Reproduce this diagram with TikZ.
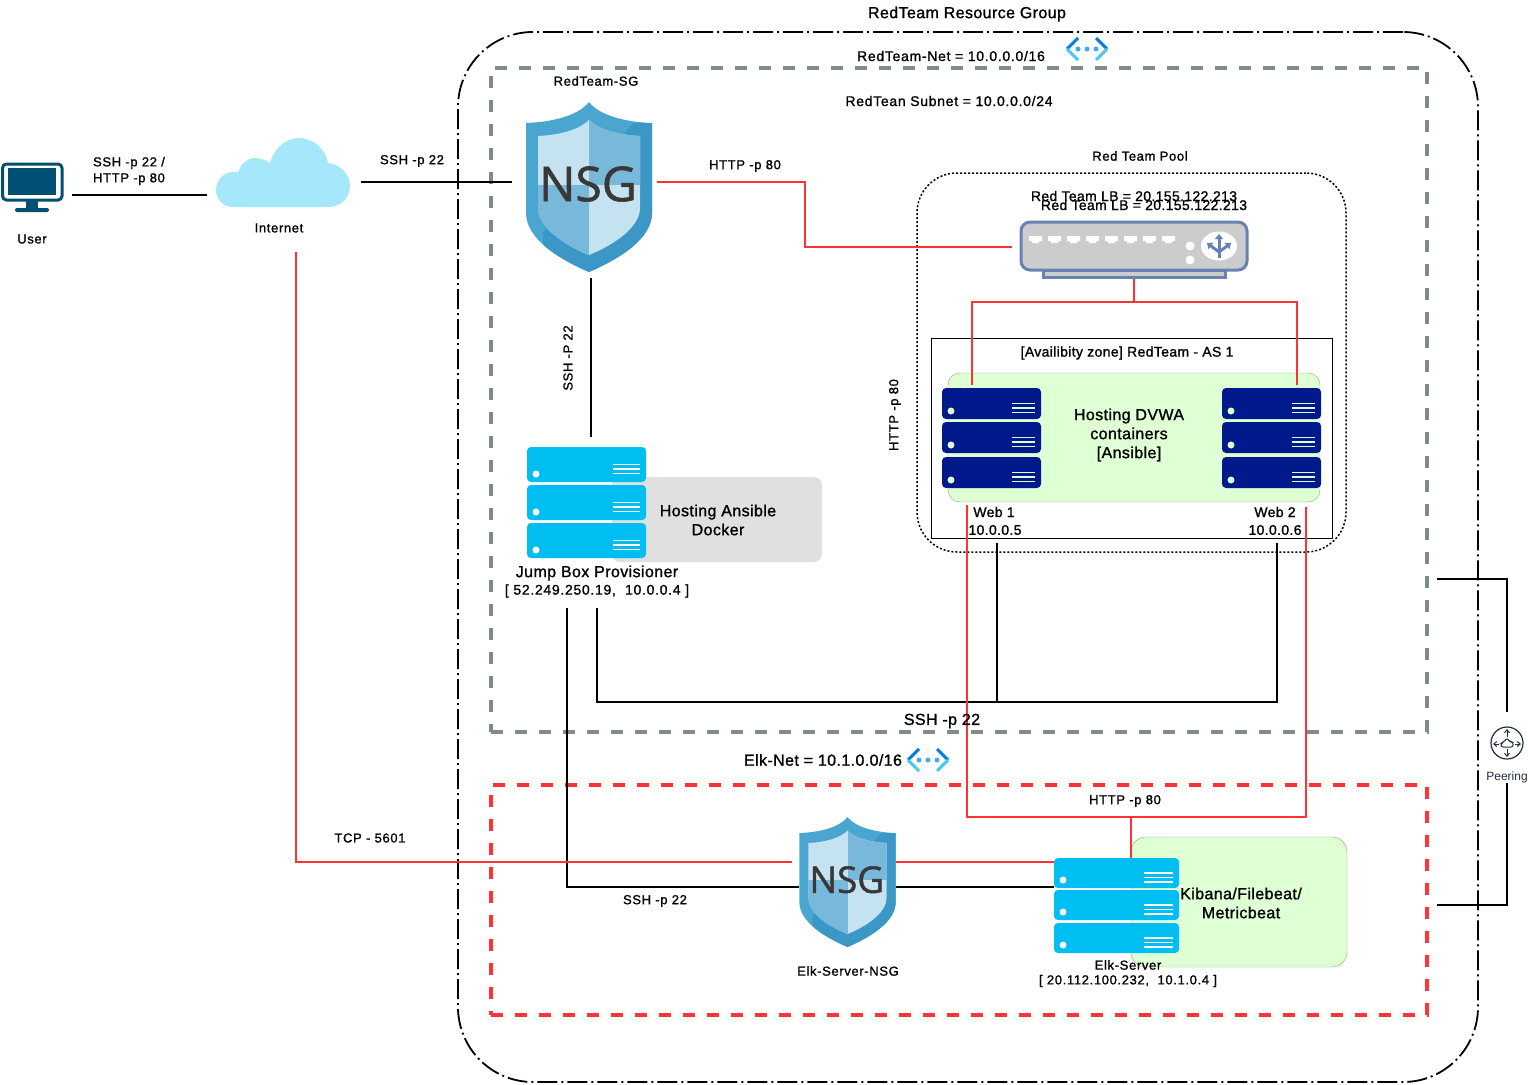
\documentclass[tikz,border=0pt]{standalone}
\usepackage{fontspec}
\usepackage{tikz}
\usetikzlibrary{arrows.meta}
\newfontfamily\difont{Liberation Sans}[LetterSpace=2.5,FakeBold=1.2]
\newfontfamily\difontwide{Liberation Sans}[LetterSpace=5,FakeBold=1.2]
\newfontfamily\shieldfont{Open Sans}[FakeBold=1.2]
\setmainfont{Liberation Sans}
\definecolor{shieldlight}{HTML}{4AA6D0}
\definecolor{shielddark}{HTML}{3A97C6}
\definecolor{panelpale}{HTML}{C5E2F0}
\definecolor{panelmid}{HTML}{78B8DA}
\definecolor{webblue}{HTML}{001A8C}
\definecolor{jumpcyan}{HTML}{00BEF2}
\definecolor{palegreen}{HTML}{DFFFD4}
\definecolor{greenedge}{HTML}{82B366}
\definecolor{lbblue}{HTML}{6881B3}
\definecolor{subnetgray}{HTML}{7F8C8D}
\definecolor{wirered}{HTML}{FF3333}
\definecolor{monitorblue}{HTML}{005073}
\definecolor{cloudblue}{HTML}{A5E8FB}
\definecolor{peeringink}{HTML}{232F3E}
\tikzset{
  wire/.style={line width=2pt,black},
  redwire/.style={line width=2pt,wirered},
  boxnode/.style={inner sep=0pt,outer sep=0pt},
  lblsmall/.style={font=\difontwide\fontsize{13}{16}\selectfont,align=center,inner sep=0pt},
  lblmid/.style={font=\difont\fontsize{14}{18}\selectfont,align=center,inner sep=0pt},
  lblwide/.style={font=\difontwide\fontsize{14}{18}\selectfont,align=center,inner sep=0pt},
  lbllarge/.style={font=\difont\fontsize{16}{19}\selectfont,align=center,inner sep=0pt},
  nsgshield/.pic={
    \begin{scope}
      \clip (0,-85) .. controls (-10,-72) and (-35,-65) .. (-63,-64) -- (-63,26)
        .. controls (-63,52) and (-30,72) .. (0,85)
        .. controls (30,72) and (63,52) .. (63,26) -- (63,-64)
        .. controls (35,-65) and (10,-72) .. (0,-85) -- cycle;
      \fill[shieldlight] (-70,-90) rectangle (70,90);
      \fill[shielddark] (44,-64) -- (-46,46) -- (-46,90) -- (70,90) -- (70,-64) -- cycle;
    \end{scope}
    \begin{scope}
      \clip (0,-67) .. controls (-10,-57) and (-30,-52) .. (-51,-51) -- (-51,21)
        .. controls (-51,40) and (-25,58) .. (0,68)
        .. controls (25,58) and (51,40) .. (51,21) -- (51,-51)
        .. controls (30,-52) and (10,-57) .. (0,-67) -- cycle;
      \fill[panelpale] (-60,-70) rectangle (60,70);
      \fill[panelmid] (0,-70) rectangle (60,-2);
      \fill[panelmid] (-60,-2) rectangle (0,70);
    \end{scope}
    \node[transform shape,inner sep=0pt,text=black!78,font=\shieldfont\fontsize{48}{48}\selectfont] at (-1,-3) {NSG};
  },
  vnetmark/.pic={
    \draw[line width=3pt,color=blue!45!cyan!90!black] (-9,-11) -- (-20,0);
    \draw[line width=3pt,color=cyan!70!white] (-20,0) -- (-9,11);
    \draw[line width=3pt,color=blue!45!cyan!90!black] (9,-11) -- (20,0);
    \draw[line width=3pt,color=cyan!70!white] (20,0) -- (9,11);
    \foreach \dotx in {-9,0,9}
      \fill[blue!45!cyan!75!white] (\dotx,0) circle (2.5pt);
  }
}
\newcommand{\serverunit}[6]{
  \fill[#5,rounded corners=4pt] (#1,#2) rectangle ++(#3,#4);
  \fill[#6] ({#1+9},{#2+#4-8}) circle (3.5pt);
  \foreach \lineoff in {0,4.5,9}
    \draw[#6,line width=1.7pt] ({#1+#3-6-.23*#3},{#2+#4/2+\lineoff}) -- ++({.23*#3},0);
}
\begin{document}
\begin{tikzpicture}[x=1pt,y=-1pt]
  \useasboundingbox (0,0) rectangle (1528,1084);

  \node[boxnode,draw,line width=1.8pt,rounded corners=75pt,dash pattern=on 20pt off 4pt on 2pt off 4pt,minimum width=1020pt,minimum height=1050pt] (redgroup) at (968,557) {};
  \node[boxnode,draw=subnetgray,line width=3.6pt,dash pattern=on 12pt off 12pt,minimum width=936pt,minimum height=664pt] (redsubnet) at (959,400) {};
  \node[boxnode,draw=wirered,line width=3.2pt,dash pattern=on 12pt off 12pt,minimum width=936pt,minimum height=230pt] (elksubnet) at (959,900) {};
  \node[boxnode,draw,line width=1.5pt,rounded corners=40pt,dash pattern=on 2pt off 2pt,minimum width=429pt,minimum height=379pt] (redpool) at (1131.5,362.5) {};
  \node[boxnode,draw,line width=.8pt,minimum width=401pt,minimum height=200pt] (avzone) at (1131.5,438) {};
  \node[boxnode,draw=greenedge,fill=palegreen,rounded corners=12pt,minimum width=372pt,minimum height=129pt] (webbox) at (1134,437.5) {};
  \node[boxnode,fill=black!12,rounded corners=8pt,minimum width=210pt,minimum height=85pt] (ansiblebox) at (717,519.5) {};
  \node[boxnode,draw=greenedge,fill=palegreen,rounded corners=15pt,minimum width=216pt,minimum height=130pt] (kibanabox) at (1239,902) {};

  \coordinate (userout) at (72,195);
  \coordinate (netin) at (207,195);
  \coordinate (netout) at (361,182);
  \coordinate (sgin) at (512,182);
  \coordinate (sgred) at (657,182);
  \coordinate (lbjog) at (805,247);
  \coordinate (lbin) at (1012,247);
  \coordinate (sgdown) at (591,278);
  \coordinate (jumpup) at (591,437);
  \coordinate (lbdown) at (1134,278);
  \coordinate (lbsplit) at (1134,302);
  \coordinate (webonein) at (972,385);
  \coordinate (webtwoin) at (1297,385);
  \coordinate (webonered) at (967,505);
  \coordinate (webtwored) at (1306,507);
  \coordinate (elkjoin) at (1131,817);
  \coordinate (elktop) at (1131,858);
  \coordinate (jumpright) at (597,608);
  \coordinate (jumpleft) at (567,608);
  \coordinate (sshcorner) at (1277,702);
  \coordinate (sshjoin) at (997,702);
  \coordinate (webonessh) at (997,543);
  \coordinate (webtwossh) at (1277,543);
  \coordinate (elksgleft) at (799,887);
  \coordinate (elksgright) at (896,887);
  \coordinate (elkin) at (1054,887);
  \coordinate (netdown) at (296,252);
  \coordinate (elksgtcp) at (792,862);
  \coordinate (elksgtcpout) at (896,862);
  \coordinate (elktcp) at (1054,862);
  \coordinate (peerone) at (1437,579);
  \coordinate (peertop) at (1507,712);
  \coordinate (peertwo) at (1437,905);
  \coordinate (peerlow) at (1507,783);

  \draw[wire] (userout) -- (netin);
  \draw[wire] (netout) -- (sgin);
  \draw[redwire] (sgred) -| (lbjog) -- (lbin);
  \draw[wire] (sgdown) -- (jumpup);
  \draw[redwire] (lbdown) -- (lbsplit);
  \draw[redwire] (webonein) |- (lbsplit) -| (webtwoin);
  \draw[wire] (jumpright) |- (sshcorner) -- (webtwossh);
  \draw[wire] (webonessh) -- (sshjoin);
  \draw[redwire] (webonered) |- (elkjoin) -| (webtwored);
  \draw[redwire] (elkjoin) -- (elktop);
  \draw[wire] (jumpleft) |- (elksgleft);
  \draw[wire] (elksgright) -- (elkin);
  \draw[redwire] (netdown) |- (elksgtcp);
  \draw[redwire] (elksgtcpout) -- (elktcp);
  \draw[wire] (peerone) -| (peertop);
  \draw[wire] (peertwo) -| (peerlow);

  \draw[monitorblue,line width=3pt,rounded corners=4pt] (2.5,164) rectangle (62,200);
  \fill[monitorblue] (8,168) rectangle (56,195);
  \fill[monitorblue] (26,201) rectangle (38,208);
  \fill[monitorblue,rounded corners=2pt] (15,208) rectangle (49,212);

  \fill[cloudblue] (233,207) .. controls (223,207) and (216,199) .. (216,190)
    .. controls (216,180) and (224,172) .. (233,172) .. controls (235,172) and (237,172) .. (238,173)
    .. controls (240,164) and (248,158) .. (254,158) .. controls (260,158) and (266,160) .. (270,163)
    .. controls (274,148) and (286,138) .. (299,138) .. controls (314,138) and (326,150) .. (328,163)
    .. controls (340,164) and (350,174) .. (350,186) .. controls (350,198) and (340,207) .. (329,207) -- cycle;

  \pic at (589,187) {nsgshield};
  \pic[scale=.765] at (847.5,882) {nsgshield};
  \pic at (1087,49) {vnetmark};
  \pic at (928,760) {vnetmark};

  \draw[lbblue,line width=3pt,fill=black!20] (1043,270) rectangle (1225,277);
  \draw[lbblue,line width=3pt,fill=black!20,rounded corners=9pt] (1021,222) rectangle (1247,270);
  \foreach \portx in {0,...,7}
    \fill[white] ({1029+19*\portx},236) -- ++(13,0) -- ++(0,5) -- ++(-3,0) -- ++(0,2) -- ++(-7,0) -- ++(0,-2) -- ++(-3,0) -- cycle;
  \fill[white] (1190,246) circle (4.5pt) (1190,260) circle (4.5pt);
  \fill[white] (1219,246) ellipse (18pt and 14.5pt);
  \draw[lbblue,line width=3pt,-{Triangle[length=5pt,width=8pt]}] (1219,258) -- (1219,234);
  \draw[lbblue,line width=3pt,-{Triangle[length=5pt,width=8pt]}] (1219,252) -- (1207,243);
  \draw[lbblue,line width=3pt,-{Triangle[length=5pt,width=8pt]}] (1219,252) -- (1231,243);

  \foreach \unity in {388,422,457} {
    \serverunit{942}{\unity}{99}{31}{webblue}{palegreen}
    \serverunit{1222}{\unity}{99}{31}{webblue}{palegreen}
  }
  \foreach \unity in {447,485,523} {
    \serverunit{527}{\unity}{119}{35}{jumpcyan}{white}
  }
  \foreach \unity in {858,890,923} {
    \serverunit{1054}{\unity}{125}{30}{jumpcyan}{white}
  }

  \draw[peeringink,line width=1.2pt] (1507,743) circle (16pt);
  \draw[peeringink,line width=1pt,rounded corners=2pt] (1501,747) -- (1513,747) -- (1513,742) -- (1510,742) -- (1507,738) -- (1504,742) -- (1501,743) -- cycle;
  \draw[peeringink,line width=1pt,-{Straight Barb[length=3pt,width=5pt]}] (1507,737) -- (1507,729);
  \draw[peeringink,line width=1pt,-{Straight Barb[length=3pt,width=5pt]}] (1507,749) -- (1507,757);
  \draw[peeringink,line width=1pt,-{Straight Barb[length=3pt,width=5pt]}] (1499,744) -- (1493,744);
  \draw[peeringink,line width=1pt,-{Straight Barb[length=3pt,width=5pt]}] (1515,744) -- (1521,744);

  \node[lbllarge] (grouplabel) at (967,14) {RedTeam Resource Group};
  \node[lblwide] (netlabel) at (951,56) {RedTeam-Net = 10.0.0.0/16};
  \node[lblsmall] (sglabel) at (596,81) {RedTeam-SG};
  \node[lblwide] (subnetlabel) at (949,101) {RedTean Subnet = 10.0.0.0/24};
  \node[lblsmall] (poollabel) at (1140,156) {Red Team Pool};
  \node[lblsmall] (userlink) at (129,171) {SSH -p 22 /\\HTTP -p 80};
  \node[lblsmall] (userlabel) at (32,239) {User};
  \node[lblsmall] (netname) at (279,228) {Internet};
  \node[lblsmall] (sshsg) at (412,161) {SSH -p 22};
  \node[lblsmall] (httplb) at (745,166) {HTTP -p 80};
  \node[lblsmall,rotate=90] (sshjump) at (568,358) {SSH -P 22};
  \node[lblsmall,rotate=90] (httppool) at (895,415) {HTTP -p 80};
  \node[lblmid] (lbone) at (1134,196) {Red Team LB = 20.155.122.213};
  \node[lblmid] (lbtwo) at (1144,205) {Red Team LB = 20.155.122.213};
  \node[lblmid] (zonelabel) at (1127,353) {[Availibity zone] RedTeam - AS 1};
  \node[lbllarge] (dvwalabel) at (1129,435) {Hosting DVWA\\containers\\{[Ansible]}};
  \node[lblmid] (webonename) at (994,512) {Web 1};
  \node[lblmid] (webone) at (995,530) {10.0.0.5};
  \node[lblmid] (webtwoname) at (1275,512) {Web 2};
  \node[lblmid] (webtwo) at (1275,530) {10.0.0.6};
  \node[lbllarge] (ansiblelabel) at (718,520) {Hosting Ansible\\Docker};
  \node[lbllarge] (jumpname) at (597,573) {Jump Box Provisioner};
  \node[lblwide] (jumpaddr) at (597,591) {[ 52.249.250.19,\ \ 10.0.0.4 ]};
  \node[lbllarge] (sshbig) at (942,721) {SSH -p 22};
  \node[lbllarge] (elknet) at (823,760) {Elk-Net = 10.1.0.0/16};
  \node[lblsmall] (httpelk) at (1125,801) {HTTP -p 80};
  \node[lblsmall] (tcplabel) at (370,838) {TCP - 5601};
  \node[lblsmall] (sshelk) at (655,901) {SSH -p 22};
  \node[lblsmall] (elksg) at (848,971) {Elk-Server-NSG};
  \node[lbllarge] (kibanalabel) at (1241,903) {Kibana/Filebeat/\\Metricbeat};
  \node[lblsmall] (elkname) at (1128,965) {Elk-Server};
  \node[lblsmall] (elkaddr) at (1128,981) {[ 20.112.100.232,\ \ 10.1.0.4 ]};
  \node[font=\fontsize{12}{14}\selectfont,text=peeringink,inner sep=0pt] (peerlabel) at (1507,777) {Peering};
\end{tikzpicture}
\end{document}
